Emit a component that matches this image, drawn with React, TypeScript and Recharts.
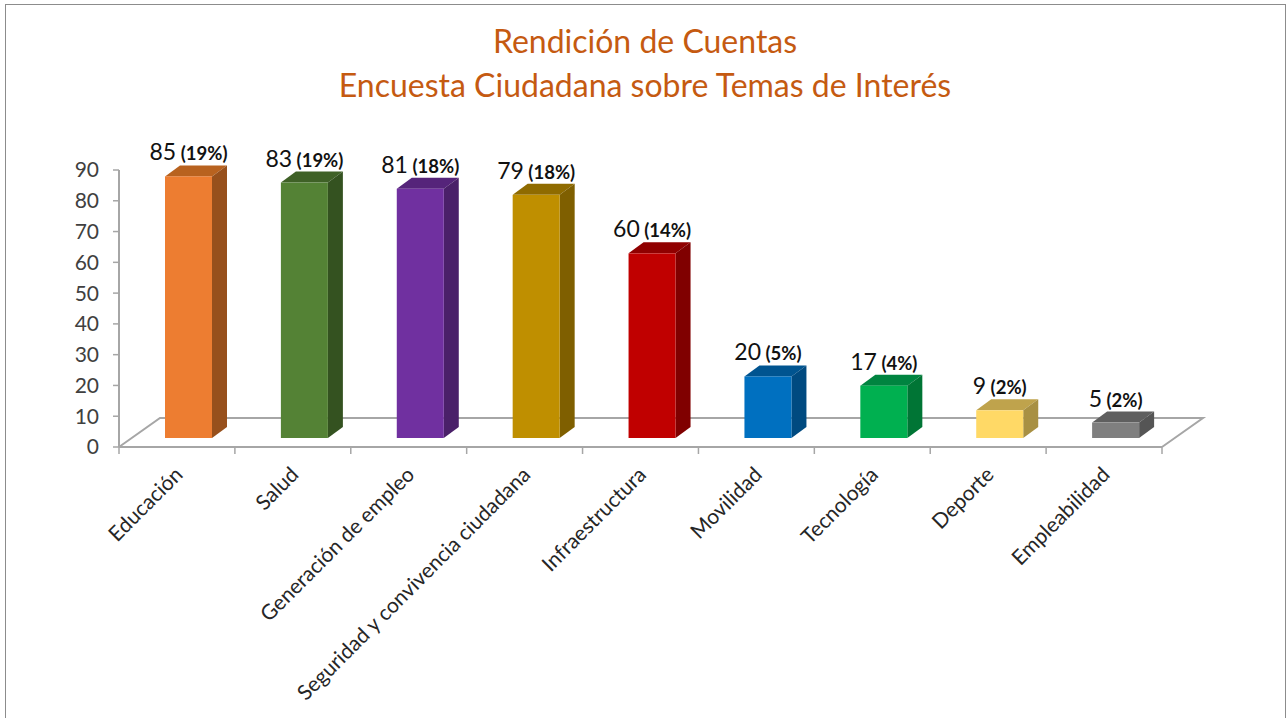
import React from "react";
import { BarChart, Bar, XAxis, YAxis, LabelList, usePlotArea } from "recharts";

const categories = ["Educación", "Salud", "Generación de empleo", "Seguridad y convivencia ciudadana", "Infraestructura", "Movilidad", "Tecnología", "Deporte", "Empleabilidad"];
const counts = [85, 83, 81, 79, 60, 20, 17, 9, 5];
const shares = ["19%", "19%", "18%", "18%", "14%", "5%", "4%", "2%", "2%"];
const yTicks = [0, 10, 20, 30, 40, 50, 60, 70, 80, 90];
const frontColors = ["#ED7D31", "#548235", "#7030A0", "#BF8F00", "#C00000", "#0070C0", "#00B050", "#FFD966", "#7F7F7F"];
const topColors = ["#B8621F", "#3F6127", "#55247A", "#8F6B00", "#900000", "#005490", "#008440", "#BFA34C", "#5F5F5F"];
const sideColors = ["#97501C", "#345220", "#4A2069", "#7F5F00", "#800000", "#004A80", "#007535", "#A89043", "#555555"];
const titleLines = ["Rendición de Cuentas", "Encuesta Ciudadana sobre Temas de Interés"];

const data = categories.map((name, i) => ({ name, value: counts[i], share: shares[i] }));

const FONT = "Lato, 'Open Sans', sans-serif";
const AXIS = "#A6A6A6";
const SHIFT_X = 12;
const SHIFT_Y = -9;
const DEPTH_X = 15;
const DEPTH_Y = -11;
const FLOOR_X = 41;
const FLOOR_Y = -29;
const TICK_LEN = 7;

function Bar3D(props: any) {
  const { x, y, width, height, index } = props;
  const l = x + SHIFT_X;
  const t = y + SHIFT_Y;
  const r = l + width;
  const b = t + height;
  return (
    <g>
      <polygon points={`${l},${t} ${r},${t} ${r + DEPTH_X},${t + DEPTH_Y} ${l + DEPTH_X},${t + DEPTH_Y}`} fill={topColors[index]} />
      <polygon points={`${r},${t} ${r + DEPTH_X},${t + DEPTH_Y} ${r + DEPTH_X},${b + DEPTH_Y} ${r},${b}`} fill={sideColors[index]} />
      <rect x={l} y={t} width={width} height={height} fill={frontColors[index]} />
    </g>
  );
}

function Floor() {
  const p = usePlotArea();
  if (!p) return null;
  const bottom = p.y + p.height;
  const right = p.x + p.width;
  const step = p.width / categories.length;
  return (
    <g>
      <polyline
        points={`${p.x},${bottom} ${p.x + FLOOR_X},${bottom + FLOOR_Y} ${right + FLOOR_X},${bottom + FLOOR_Y} ${right},${bottom}`}
        fill="none"
        stroke={AXIS}
        strokeWidth={2}
      />
      {[...categories, ""].map((c, i) => (
        <line key={i} x1={p.x + i * step} x2={p.x + i * step} y1={bottom} y2={bottom + TICK_LEN} stroke={AXIS} strokeWidth={1.5} />
      ))}
    </g>
  );
}

function CategoryTick(props: any) {
  const { x, y, payload } = props;
  return (
    <text
      transform={`translate(${x + 7},${y + 20}) rotate(-45)`}
      textAnchor="end"
      fontFamily={FONT}
      fontSize={21}
      fill="#262626"
    >
      {payload.value}
    </text>
  );
}

function ValueLabel(props: any) {
  const { x, y, width, index } = props;
  return (
    <text
      x={x + SHIFT_X + width / 2}
      y={y + SHIFT_Y - 16}
      textAnchor="middle"
      fontFamily={FONT}
      fill="#111111"
    >
      <tspan fontSize={23}>{counts[index]}</tspan>
      <tspan fontSize={18.5} fontWeight={700}>{` (${shares[index]})`}</tspan>
    </text>
  );
}

export default function App() {
  return (
    <div style={{ position: "absolute", left: 0, top: 0, width: 1288, height: 718, background: "#fff", overflow: "hidden" }}>
      <div style={{ position: "absolute", left: 5, top: 4, width: 1279, height: 720, border: "1px solid #8C8C8C", boxSizing: "content-box" }} />
      {titleLines.map((line, i) => (
        <div
          key={line}
          style={{
            position: "absolute", left: 0, width: 1290, top: 19 + i * 44, textAlign: "center",
            fontFamily: FONT, fontSize: 32, lineHeight: "44px", color: "#C55A11",
          }}
        >
          {line}
        </div>
      ))}
      <BarChart
        width={1288}
        height={718}
        data={data}
        margin={{ left: 0, right: 126, top: 170, bottom: 0 }}
        style={{ position: "absolute", left: 0, top: 0 }}
      >
        <Floor />
        <XAxis
          dataKey="name"
          interval={0}
          tickSize={7}
          tickLine={false}
          axisLine={{ stroke: AXIS, strokeWidth: 2 }}
          tick={<CategoryTick />}
          height={271}
        />
        <YAxis
          domain={[0, 90]}
          ticks={yTicks}
          interval={0}
          width={119}
          tickSize={6}
          tickMargin={14}
          tickLine={{ stroke: AXIS, strokeWidth: 1.5 }}
          axisLine={{ stroke: AXIS, strokeWidth: 2 }}
          tick={{ fontFamily: FONT, fontSize: 21, fill: "#404040" }}
        />
        <Bar dataKey="value" barSize={47} shape={<Bar3D />} isAnimationActive={false}>
          <LabelList dataKey="value" content={<ValueLabel />} />
        </Bar>
      </BarChart>
    </div>
  );
}
